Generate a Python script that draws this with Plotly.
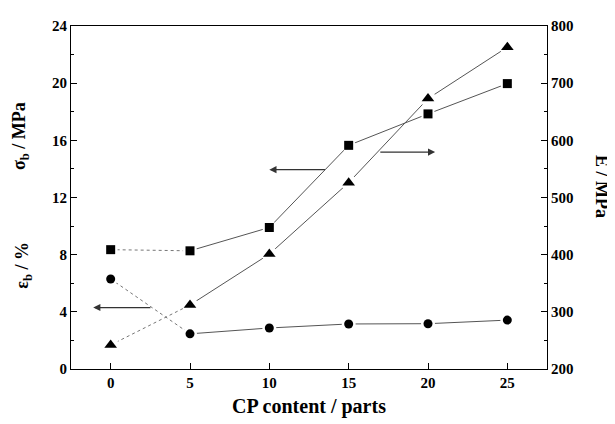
import plotly.graph_objects as go

cp_content = [0, 5, 10, 15, 20, 25]
sigma_b = [8.35, 8.27, 9.9, 15.65, 17.85, 19.97]      # MPa, left axis (squares)
eps_b = [6.3, 2.46, 2.87, 3.15, 3.17, 3.42]           # %, left axis (circles)
E_mod = [242, 312, 401, 526, 673, 763]                # MPa, right axis (triangles)

FONT = "Liberation Serif"
LINE_COL = "#555555"

fig = go.Figure()

series = [
    (sigma_b, "square", 9, "y"),
    (eps_b, "circle", 9, "y"),
    (E_mod, "triangle-up", 11, "y2"),
]

for vals, sym, size, yax in series:
    # dotted first segment
    fig.add_trace(go.Scatter(x=cp_content[:2], y=vals[:2], mode="lines", yaxis=yax,
                             line=dict(color="#777777", width=1, dash="dot"),
                             showlegend=False, hoverinfo="skip"))
    # solid remaining segments
    fig.add_trace(go.Scatter(x=cp_content[1:], y=vals[1:], mode="lines", yaxis=yax,
                             line=dict(color=LINE_COL, width=1),
                             showlegend=False, hoverinfo="skip"))
    # white halo to create gap between line and marker
    fig.add_trace(go.Scatter(x=cp_content, y=vals, mode="markers", yaxis=yax,
                             marker=dict(symbol="circle", size=size + 5, color="white"),
                             showlegend=False, hoverinfo="skip"))

for vals, sym, size, yax in series:
    fig.add_trace(go.Scatter(x=cp_content, y=vals, mode="markers", yaxis=yax,
                             marker=dict(symbol=sym, size=size, color="black"),
                             showlegend=False))

arrows = [
    # (x_tail, y_tail, x_head, y_head) in data coords of x / left y
    (2.6, 4.3, -1.1, 4.3),
    (13.6, 13.95, 10.0, 13.95),
    (16.9, 15.18, 20.45, 15.18),
]
annotations = []
for xt, yt, xh, yh in arrows:
    annotations.append(dict(x=xh, y=yh, ax=xt, ay=yt, xref="x", yref="y",
                            axref="x", ayref="y", showarrow=True, arrowhead=2,
                            arrowsize=1.1, arrowwidth=1.3, arrowcolor="#333333", text=""))

title_font = dict(family=FONT, size=18, color="black")
annotations += [
    dict(text="<b>σ<sub>b</sub> / MPa</b>", xref="paper", yref="paper",
         x=-0.106, y=0.678, textangle=-90, showarrow=False, font=title_font,
         xanchor="center", yanchor="middle"),
    dict(text="<b>ε<sub>b</sub> / %</b>", xref="paper", yref="paper",
         x=-0.1, y=0.302, textangle=-90, showarrow=False, font=title_font,
         xanchor="center", yanchor="middle"),
    dict(text="<b>E / MPa</b>", xref="paper", yref="paper",
         x=1.116, y=0.533, textangle=90, showarrow=False,
         font=dict(family=FONT, size=18, color="black"),
         xanchor="center", yanchor="middle"),
]

tick_font = dict(family=FONT, size=15, color="black", weight="bold")

fig.update_layout(
    width=607, height=416,
    margin=dict(l=63, r=68, t=10, b=55),
    plot_bgcolor="white", paper_bgcolor="white",
    showlegend=False,
    annotations=annotations,
    xaxis=dict(range=[-2.5, 27.5], tickvals=[0, 5, 10, 15, 20, 25],
               ticks="inside", ticklen=6, tickcolor="black", tickwidth=1,
               showline=True, linecolor="black", linewidth=1, mirror=True,
               showgrid=False, zeroline=False, tickfont=tick_font,
               title=dict(text="<b>CP content / parts</b>",
                          font=dict(family=FONT, size=20, color="black"), standoff=8)),
    yaxis=dict(range=[0, 24], dtick=4, ticks="inside", ticklen=6, tickcolor="black",
               minor=dict(ticks="inside", ticklen=3, dtick=2, tickcolor="black"),
               showline=True, linecolor="black", linewidth=1,
               showgrid=False, zeroline=False, tickfont=tick_font),
    yaxis2=dict(range=[200, 800], dtick=100, ticks="inside", ticklen=6, tickcolor="black",
                minor=dict(ticks="inside", ticklen=3, dtick=50, tickcolor="black"),
                showline=True, linecolor="black", linewidth=1,
                overlaying="y", side="right",
                showgrid=False, zeroline=False, tickfont=tick_font),
)

fig.write_html("out.html")
